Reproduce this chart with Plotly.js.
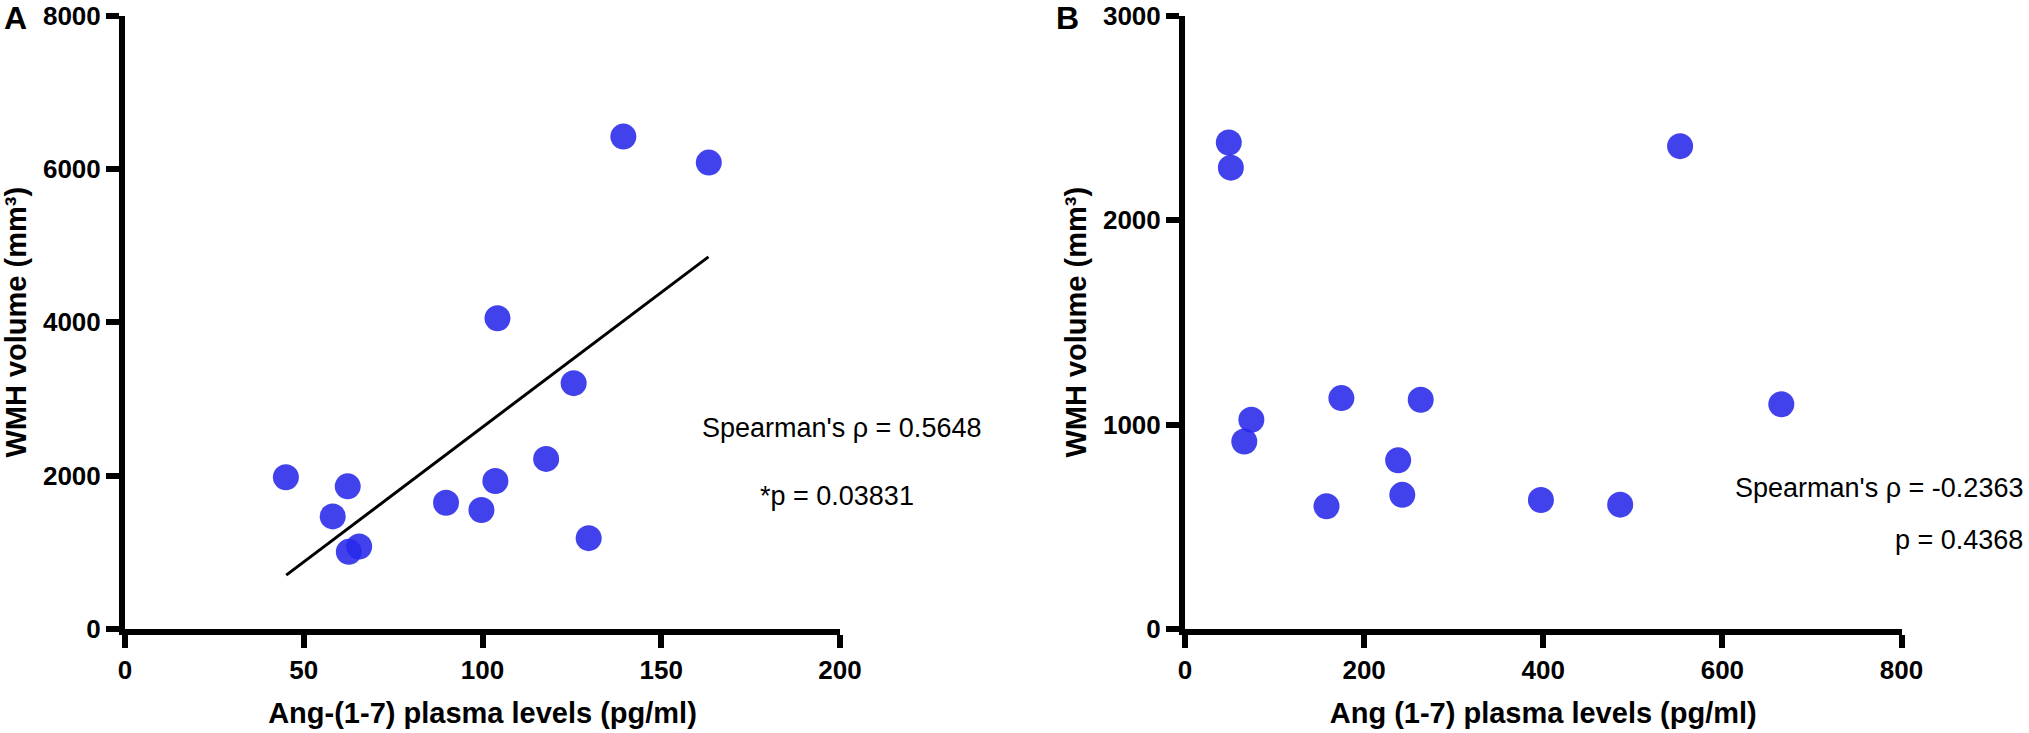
<!DOCTYPE html>
<html>
<head>
<meta charset="utf-8">
<script src="https://cdn.plot.ly/plotly-3.0.1.min.js"></script>
<style>
  html, body { margin: 0; padding: 0; background: #ffffff; }
  #chart { width: 2029px; height: 733px; }
</style>
</head>
<body>
<div id="chart"></div>
<script>
// ---------- Data ----------
// Panel A: Ang-(1-7) plasma levels vs WMH volume
const angA = [139.4, 163.3, 104.2, 125.5, 117.8, 103.6, 99.7, 89.8, 129.7, 45.0, 62.3, 58.1, 62.6, 65.5];
const wmhA = [6421, 6082, 4052, 3206, 2218, 1930, 1551, 1646, 1185, 1978, 1860, 1468, 1006, 1076];
// Panel A regression line end points
const fitAx = [45.1, 163.2];
const fitAy = [702, 4853];

// Panel B: Ang (1-7) plasma levels vs WMH volume
const angB = [48.9, 51.2, 552.8, 174.6, 263.2, 665.8, 74.1, 66.2, 238.0, 242.6, 158.0, 397.4, 485.9];
const wmhB = [2379, 2256, 2361, 1129, 1121, 1099, 1023, 917, 825, 656, 600, 631, 608];

// Tick values
const xTicksA = [0, 50, 100, 150, 200];
const yTicksA = [0, 2000, 4000, 6000, 8000];
const xTicksB = [0, 200, 400, 600, 800];
const yTicksB = [0, 1000, 2000, 3000];

// Text
const xTitleA = "Ang-(1-7) plasma levels (pg/ml)";
const xTitleB = "Ang (1-7) plasma levels (pg/ml)";
const yTitle = "WMH volume (mm³)";
const statsA = ["Spearman's ρ = 0.5648", "*p = 0.03831"];
const statsB = ["Spearman's ρ = -0.2363", "p = 0.4368"];
const panelLabels = ["A", "B"];

// ---------- Styling ----------
const W = 2029, H = 733;
const FONT = "Liberation Sans, Arial, Helvetica, sans-serif";
const dotColor = "rgba(40,40,235,0.88)";

const px = v => v / W;
const py = v => 1 - v / H;

const yDomain = [py(629), py(15.5)];

function axisStyle(extra) {
  return Object.assign({
    showline: true,
    linecolor: "#000",
    linewidth: 6,
    ticks: "outside",
    ticklen: 13,
    tickwidth: 6,
    tickcolor: "#000",
    showgrid: false,
    zeroline: false,
    tickmode: "array",
    tickfont: { family: FONT, size: 26, color: "#000", weight: 700 },
    fixedrange: true
  }, extra);
}

const traces = [
  {
    x: angA, y: wmhA, xaxis: "x", yaxis: "y",
    type: "scatter", mode: "markers",
    marker: { size: 26, color: dotColor, line: { width: 0 } },
    cliponaxis: false, hoverinfo: "skip", showlegend: false
  },
  {
    x: fitAx, y: fitAy, xaxis: "x", yaxis: "y",
    type: "scatter", mode: "lines",
    line: { color: "#000", width: 3 },
    hoverinfo: "skip", showlegend: false
  },
  {
    x: angB, y: wmhB, xaxis: "x2", yaxis: "y2",
    type: "scatter", mode: "markers",
    marker: { size: 26, color: dotColor, line: { width: 0 } },
    cliponaxis: false, hoverinfo: "skip", showlegend: false
  }
];

const titleFont = { family: FONT, size: 29, color: "#000", weight: 700 };

const layout = {
  width: W, height: H,
  margin: { l: 0, r: 0, t: 0, b: 0, pad: 0 },
  paper_bgcolor: "#ffffff",
  plot_bgcolor: "#ffffff",
  showlegend: false,
  xaxis: axisStyle({
    domain: [px(125), px(840)], range: [0, 200],
    tickvals: xTicksA, ticktext: xTicksA.map(String),
    anchor: "y",
    title: { text: xTitleA, font: titleFont, standoff: 20 }
  }),
  yaxis: axisStyle({
    domain: yDomain, range: [0, 8000],
    tickvals: yTicksA, ticktext: yTicksA.map(String),
    anchor: "x",
    title: { text: yTitle, font: titleFont, standoff: 10 }
  }),
  xaxis2: axisStyle({
    domain: [px(1185), px(1901.5)], range: [0, 800],
    tickvals: xTicksB, ticktext: xTicksB.map(String),
    anchor: "y2",
    title: { text: xTitleB, font: titleFont, standoff: 20 }
  }),
  yaxis2: axisStyle({
    domain: yDomain, range: [0, 3000],
    tickvals: yTicksB, ticktext: yTicksB.map(String),
    anchor: "x2",
    title: { text: yTitle, font: titleFont, standoff: 10 }
  }),
  annotations: [
    { text: statsA[0], xref: "paper", yref: "paper", x: px(841), y: py(428),
      xanchor: "center", yanchor: "middle", showarrow: false,
      font: { family: FONT, size: 27, color: "#000" } },
    { text: statsA[1], xref: "paper", yref: "paper", x: px(837), y: py(496),
      xanchor: "center", yanchor: "middle", showarrow: false,
      font: { family: FONT, size: 27, color: "#000" } },
    { text: statsB[0], xref: "paper", yref: "paper", x: px(2025), y: py(488),
      xanchor: "right", yanchor: "middle", showarrow: false,
      font: { family: FONT, size: 27, color: "#000" } },
    { text: statsB[1], xref: "paper", yref: "paper", x: px(2025), y: py(540),
      xanchor: "right", yanchor: "middle", showarrow: false,
      font: { family: FONT, size: 27, color: "#000" } },
    { text: panelLabels[0], xref: "paper", yref: "paper", x: px(15), y: py(18),
      xanchor: "center", yanchor: "middle", showarrow: false,
      font: { family: FONT, size: 32, color: "#000", weight: 700 } },
    { text: panelLabels[1], xref: "paper", yref: "paper", x: px(1067), y: py(18),
      xanchor: "center", yanchor: "middle", showarrow: false,
      font: { family: FONT, size: 32, color: "#000", weight: 700 } }
  ]
};

Plotly.newPlot("chart", traces, layout, { staticPlot: true, displayModeBar: false });
</script>
</body>
</html>
